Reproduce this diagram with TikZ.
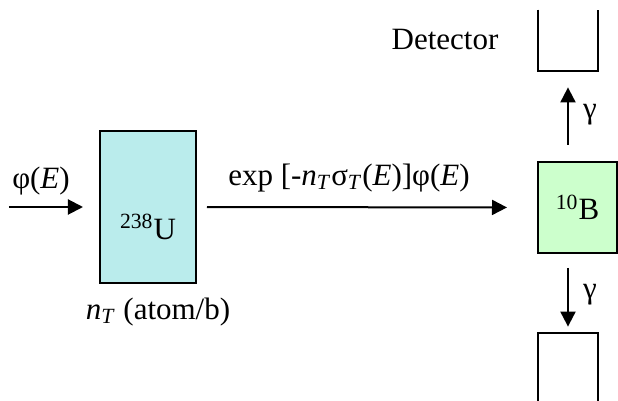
\documentclass[tikz,border=0pt]{standalone}
\usepackage{fontspec}
\setmainfont{Liberation Serif}
\usetikzlibrary{positioning,arrows.meta}
\definecolor{UraniumCyan}{RGB}{186,236,236}
\definecolor{BoronGreen}{RGB}{204,255,204}

\begin{document}
\begin{tikzpicture}[
  x=0.5pt, y=-0.5pt,
  font=\fontsize{15.5}{18}\selectfont,
  box/.style={draw,line width=1pt,inner sep=0pt},
  det/.style={inner sep=0pt,minimum width=30pt},
  ar/.style={-{Triangle[length=7.5pt,width=7.5pt]},line width=1pt}
]
\useasboundingbox (0,0) rectangle (618,401);
\node[box,fill=UraniumCyan,minimum width=48pt,minimum height=76pt] (u) at (148,207) {};
\node (ulab) at ([yshift=-10pt]u.center) {\textsuperscript{238}U};
\node[box,fill=BoronGreen,minimum width=39.5pt,minimum height=45.5pt] (b) at (577.5,207.5) {\textsuperscript{10}B};
\node[det,minimum height=30.5pt] (dtop) at (568,40.5) {};
\node[det,minimum height=34pt] (dbot) at (568,367) {};
\coordinate (src) at (9,207);
\node (phi) at (41,181) {φ(\textit{E})};
\node (trans) at (349,178) {exp [-\textit{n}\textsubscript{\textit{T}}σ\textsubscript{\textit{T}}(\textit{E})]φ(\textit{E})};
\node (nt) at (158,312) {\textit{n}\textsubscript{\textit{T}} (atom/b)};
\node (dlab) at (445,40) {Detector};
\node (gup) at (590,115) {γ};
\node (gdown) at (590,295) {γ};
\draw[line width=1pt] (dtop.north west) -- (dtop.south west) -- (dtop.south east) -- (dtop.north east);
\draw[line width=1pt] (dbot.south west) -- (dbot.north west) -- (dbot.north east) -- (dbot.south east);
\draw[ar,shorten >=8pt] (src) -- (u.west);
\draw[ar,shorten <=5pt,shorten >=15pt] (u.east) -- (b.west);
\draw[ar,shorten <=8pt,shorten >=8pt] (b.north -| dtop.south) -- (dtop.south);
\draw[ar,shorten <=7pt,shorten >=3pt] (b.south -| dbot.north) -- (dbot.north);
\end{tikzpicture}
\end{document}
